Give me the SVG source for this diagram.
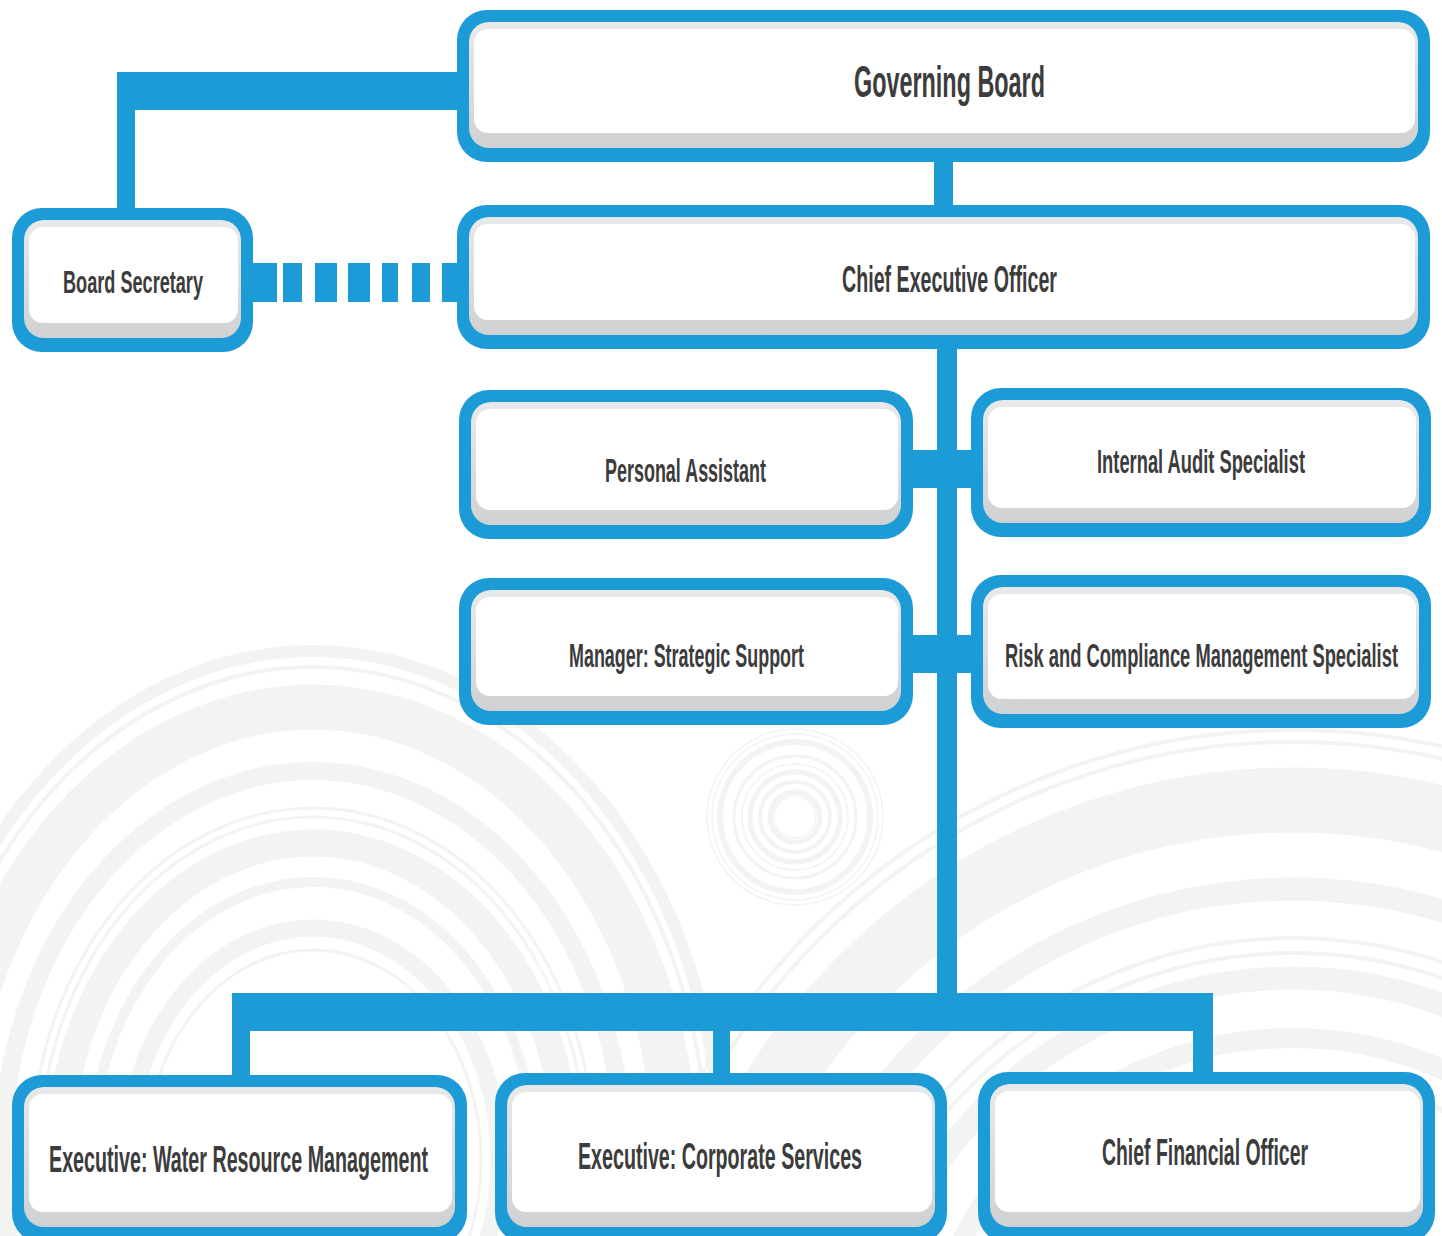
<svg xmlns="http://www.w3.org/2000/svg" width="1442" height="1236" viewBox="0 0 1442 1236">
<defs>
<linearGradient id="gg" x1="0" y1="0" x2="0" y2="1">
<stop offset="0" stop-color="#e8e9ea"/>
<stop offset="1" stop-color="#cfd1d3"/>
</linearGradient>
</defs>
<style>
.ring{fill:none;stroke:#f1f4f0}
.ob{fill:#1c9bd7}
.ig{fill:url(#gg)}
.iw{fill:#ffffff}
.ln{fill:#1c9bd7}
.t{font-family:"Liberation Sans Narrow","Liberation Sans",Arial,sans-serif;font-weight:bold;fill:#3c3c3c}
</style>
<rect x="0" y="0" width="1442" height="1236" fill="#ffffff"/>
<g id="background">
<g transform="translate(313 1160)">
<ellipse class="ring" rx="407" ry="509" stroke-width="12"/>
<ellipse class="ring" rx="394" ry="493" stroke-width="4"/>
<ellipse class="ring" rx="362" ry="453" stroke-width="45"/>
<ellipse class="ring" rx="311" ry="389" stroke-width="18"/>
<ellipse class="ring" rx="282" ry="352" stroke-width="3"/>
<ellipse class="ring" rx="274" ry="343" stroke-width="3"/>
<ellipse class="ring" rx="254" ry="317" stroke-width="27"/>
<ellipse class="ring" rx="222" ry="278" stroke-width="10"/>
<ellipse class="ring" rx="186" ry="232" stroke-width="17"/>
<ellipse class="ring" rx="168" ry="210" stroke-width="3"/>
</g>
<g transform="translate(1293 1410)">
<circle class="ring" r="680" stroke-width="4"/>
<circle class="ring" r="668" stroke-width="4"/>
<circle class="ring" r="610" stroke-width="65"/>
<circle class="ring" r="521" stroke-width="23"/>
<circle class="ring" r="472" stroke-width="4"/>
<circle class="ring" r="457" stroke-width="4"/>
<circle class="ring" r="432" stroke-width="23"/>
<circle class="ring" r="372" stroke-width="20"/>
<circle class="ring" r="335" stroke-width="6"/>
</g>
<g transform="translate(795 817)">
<circle class="ring" r="88" stroke-width="1.5"/>
<circle class="ring" r="83" stroke-width="1.5"/>
<circle class="ring" r="75" stroke-width="6"/>
<circle class="ring" r="61" stroke-width="3"/>
<circle class="ring" r="53" stroke-width="1.5"/>
<circle class="ring" r="45" stroke-width="5"/>
<circle class="ring" r="35" stroke-width="4"/>
<circle class="ring" r="25" stroke-width="5"/>
<circle class="ring" r="21" stroke-width="1.5"/>
</g>
</g>
<g id="connectors">
<rect class="ln" x="117" y="72" width="345" height="38"/>
<rect class="ln" x="117" y="72" width="18" height="140"/>
<rect class="ln" x="934" y="158" width="19" height="52"/>
<rect class="ln" x="248" y="263" width="29" height="39"/>
<rect class="ln" x="283" y="263" width="19" height="39"/>
<rect class="ln" x="315" y="263" width="22" height="39"/>
<rect class="ln" x="348" y="263" width="22" height="39"/>
<rect class="ln" x="382" y="263" width="16" height="39"/>
<rect class="ln" x="412" y="263" width="18" height="39"/>
<rect class="ln" x="442" y="263" width="20" height="39"/>
<rect class="ln" x="937" y="345" width="20" height="660"/>
<rect class="ln" x="905" y="450" width="72" height="38"/>
<rect class="ln" x="905" y="635" width="72" height="38"/>
<rect class="ln" x="232" y="993" width="981" height="38"/>
<rect class="ln" x="232" y="1025" width="18" height="55"/>
<rect class="ln" x="713" y="1025" width="17" height="53"/>
<rect class="ln" x="1193" y="1025" width="20" height="52"/>
</g>
<g id="governing-board">
<rect class="ob" x="457" y="10" width="973" height="152" rx="30"/>
<rect class="ig" x="469" y="22" width="949" height="126" rx="20"/>
<rect class="iw" x="474" y="29" width="941" height="104" rx="14"/>
<text class="t" x="854" y="97" font-size="44" textLength="191" lengthAdjust="spacingAndGlyphs">Governing Board</text>
</g>
<g id="board-secretary">
<rect class="ob" x="12" y="208" width="241" height="144" rx="30"/>
<rect class="ig" x="24" y="220" width="217" height="118" rx="20"/>
<rect class="iw" x="29" y="227" width="209" height="96" rx="14"/>
<text class="t" x="63" y="293" font-size="32" textLength="140" lengthAdjust="spacingAndGlyphs">Board Secretary</text>
</g>
<g id="ceo">
<rect class="ob" x="457" y="205" width="973" height="144" rx="30"/>
<rect class="ig" x="469" y="217" width="949" height="118" rx="20"/>
<rect class="iw" x="474" y="224" width="941" height="96" rx="14"/>
<text class="t" x="842" y="292" font-size="37" textLength="215" lengthAdjust="spacingAndGlyphs">Chief Executive Officer</text>
</g>
<g id="personal-assistant">
<rect class="ob" x="459" y="390" width="454" height="149" rx="30"/>
<rect class="ig" x="471" y="402" width="430" height="123" rx="20"/>
<rect class="iw" x="476" y="409" width="422" height="101" rx="14"/>
<text class="t" x="605" y="482" font-size="33" textLength="161" lengthAdjust="spacingAndGlyphs">Personal Assistant</text>
</g>
<g id="internal-audit">
<rect class="ob" x="971" y="388" width="460" height="149" rx="30"/>
<rect class="ig" x="983" y="400" width="436" height="123" rx="20"/>
<rect class="iw" x="988" y="407" width="428" height="101" rx="14"/>
<text class="t" x="1097" y="473" font-size="33" textLength="208" lengthAdjust="spacingAndGlyphs">Internal Audit Specialist</text>
</g>
<g id="manager-strategic-support">
<rect class="ob" x="459" y="578" width="454" height="147" rx="30"/>
<rect class="ig" x="471" y="590" width="430" height="121" rx="20"/>
<rect class="iw" x="476" y="597" width="422" height="99" rx="14"/>
<text class="t" x="569" y="667" font-size="33" textLength="235" lengthAdjust="spacingAndGlyphs">Manager: Strategic Support</text>
</g>
<g id="risk-compliance">
<rect class="ob" x="971" y="575" width="460" height="153" rx="30"/>
<rect class="ig" x="983" y="587" width="436" height="127" rx="20"/>
<rect class="iw" x="988" y="594" width="428" height="105" rx="14"/>
<text class="t" x="1005" y="667" font-size="33" textLength="393" lengthAdjust="spacingAndGlyphs">Risk and Compliance Management Specialist</text>
</g>
<g id="exec-water">
<rect class="ob" x="12" y="1075" width="455" height="168" rx="30"/>
<rect class="ig" x="24" y="1087" width="431" height="140" rx="20"/>
<rect class="iw" x="29" y="1094" width="423" height="118" rx="14"/>
<text class="t" x="49" y="1172" font-size="37" textLength="379" lengthAdjust="spacingAndGlyphs">Executive: Water Resource Management</text>
</g>
<g id="exec-corporate">
<rect class="ob" x="495" y="1073" width="452" height="170" rx="30"/>
<rect class="ig" x="507" y="1085" width="428" height="142" rx="20"/>
<rect class="iw" x="512" y="1092" width="420" height="120" rx="14"/>
<text class="t" x="578" y="1169" font-size="37" textLength="284" lengthAdjust="spacingAndGlyphs">Executive: Corporate Services</text>
</g>
<g id="cfo">
<rect class="ob" x="978" y="1072" width="457" height="171" rx="30"/>
<rect class="ig" x="990" y="1084" width="433" height="143" rx="20"/>
<rect class="iw" x="995" y="1091" width="425" height="121" rx="14"/>
<text class="t" x="1102" y="1165" font-size="37" textLength="206" lengthAdjust="spacingAndGlyphs">Chief Financial Officer</text>
</g>
</svg>
